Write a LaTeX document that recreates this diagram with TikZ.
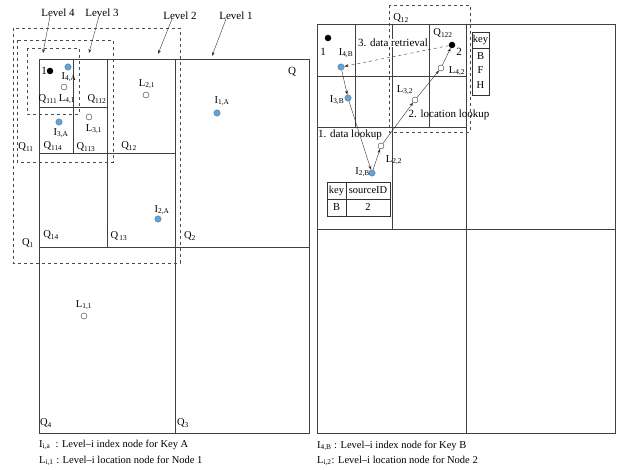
\documentclass[tikz,border=0pt]{standalone}
\usepackage{fontspec}
\setmainfont{Liberation Serif}
\usetikzlibrary{arrows.meta}
\definecolor{idxblue}{RGB}{95,165,220}
\tikzset{
  box/.style={draw=black!75, line width=0.6pt},
  dbox/.style={draw=black!70, dashed, line width=0.6pt},
  lbl/.style={inner sep=0pt, font=\fontsize{11}{12}\selectfont},
  sm/.style={inner sep=0pt, font=\fontsize{10.5}{11}\selectfont},
  leg/.style={inner sep=0pt, font=\fontsize{10.5}{11}\selectfont},
  idx/.style={circle, fill=idxblue, draw=black!60, line width=0.3pt, minimum size=6.5pt, inner sep=0pt},
  loc/.style={circle, fill=white, draw=black!80, line width=0.4pt, minimum size=6pt, inner sep=0pt},
  blk/.style={circle, fill=black, minimum size=6.5pt, inner sep=0pt},
  arr/.style={-{Stealth[length=4pt,width=3pt]}, draw=black!80, line width=0.4pt},
  darr/.style={arr, dashed},
  tbl/.style={draw=black!80, line width=0.5pt}
}
\begin{document}
\begin{tikzpicture}[x=1pt,y=-1pt]
\useasboundingbox (0,0) rectangle (621,470);
% ---------------- left panel ----------------
\draw[box] (39,59) rectangle (309,433);
\draw[box] (175,59) -- (175,433);
\draw[box] (39,247) -- (309,247);
\draw[box] (107,59) -- (107,247);
\draw[box] (39,153) -- (175,153);
\draw[box] (73,59) -- (73,153);
\draw[box] (39,107) -- (107,107);
% dashed level boxes
\draw[dbox] (13,28) rectangle (180,263);
\draw[dbox] (17,40) rectangle (113,162);
\draw[dbox] (27,48) rectangle (79,114);
% level labels and arrows
\node[lbl] (lv4) at (58,13) {Level 4};
\node[lbl] (lv3) at (102,13) {Level 3};
\node[lbl] (lv2) at (180,16) {Level 2};
\node[lbl] (lv1) at (236,16) {Level 1};
\coordinate (lv4t) at (43,53);
\coordinate (lv3t) at (89,53);
\coordinate (lv2t) at (158,54);
\coordinate (lv1t) at (212,56);
\draw[arr] (lv4.south) ++(-8,-1) -- (lv4t);
\draw[arr] (lv3.south) ++(-3,-1) -- (lv3t);
\draw[arr] (lv2.south) ++(-8,-1) -- (lv2t);
\draw[arr] (lv1.south) ++(-10,-1) -- (lv1t);
% nodes
\node[blk] (n1l) at (50,71) {};
\node[lbl] (n1lt) at (44,71) {1};
\node[idx] (i4a) at (68,67) {};
\node[sm] (i4at) at (69,77) {I\textsubscript{4,A}};
\node[loc] (l41) at (64,87) {};
\node[sm] (l41t) at (67,99) {L\textsubscript{4,1}};
\node[sm] (q111) at (48,99) {Q\textsubscript{111}};
\node[sm] (q112) at (97,99) {Q\textsubscript{112}};
\node[sm] (l21t) at (147,84) {L\textsubscript{2,1}};
\node[loc] (l21) at (146,95) {};
\node[idx] (i3a) at (59,122) {};
\node[sm] (i3at) at (61,133) {I\textsubscript{3,A}};
\node[loc] (l31) at (89,117) {};
\node[sm] (l31t) at (94,129) {L\textsubscript{3,1}};
\node[sm] (q11) at (26,147) {Q\textsubscript{11}};
\node[sm] (q114) at (53,146) {Q\textsubscript{114}};
\node[sm] (q113) at (86,147) {Q\textsubscript{113}};
\node[sm] (q12) at (129,146) {Q\textsubscript{12}};
\node[lbl] (qq) at (292,72) {Q};
\node[sm] (i1at) at (222,101) {I\textsubscript{1,A}};
\node[idx] (i1a) at (217,113) {};
\node[sm] (i2at) at (162,210) {I\textsubscript{2,A}};
\node[idx] (i2a) at (158,219) {};
\node[sm] (q14) at (51,235) {Q\textsubscript{14}};
\node[sm] (q13) at (119,236) {Q\textsubscript{\,13}};
\node[sm] (q1) at (28,243) {Q\textsubscript{1}};
\node[sm] (q2) at (190,236) {Q\textsubscript{2}};
\node[sm] (l11t) at (84,305) {L\textsubscript{1,1}};
\node[loc] (l11) at (84,316) {};
\node[sm] (q4) at (46,423) {Q\textsubscript{4}};
\node[sm] (q3) at (183,423) {Q\textsubscript{3}};
\node[leg, anchor=west] (legl1) at (39,445) {I\textsubscript{i,a}\ \ : Level–i index node for Key A};
\node[leg, anchor=west] (legl2) at (39,461) {L\textsubscript{i,1}\ : Level–i location node for Node 1};
% ---------------- right panel ----------------
\draw[box] (317,24) rectangle (615,433);
\draw[box] (466,24) -- (466,433);
\draw[box] (317,229) -- (615,229);
\draw[box] (392,24) -- (392,229);
\draw[box] (317,127) -- (466,127);
\draw[box] (355,24) -- (355,127);
\draw[box] (429,24) -- (429,127);
\draw[box] (317,76) -- (466,76);
\draw[dbox] (389,5) rectangle (470,132);
\node[sm] (rq12) at (401,18) {Q\textsubscript{12}};
\node[sm] (rq122) at (443,33) {Q\textsubscript{122}};
\node[blk] (n1) at (328,38) {};
\node[lbl] (n1t) at (323,52) {1};
\node[blk] (n2) at (452,45) {};
\node[lbl] (n2t) at (459,52) {2};
\node[idx] (i4b) at (341,67) {};
\node[sm] (i4bt) at (346,53) {I\textsubscript{4,B}};
\node[lbl, fill=white, inner sep=0.5pt] (dr) at (393,43) {3. data retrieval};
\node[loc] (l42) at (441,68) {};
\node[sm] (l42t) at (457,71) {L\textsubscript{4,2}};
\node[loc] (l32) at (415,100) {};
\node[sm] (l32t) at (405,90) {L\textsubscript{3,2}};
\node[lbl] (ll) at (449,115) {2. location lookup};
\node[lbl] (dl) at (350,135) {1. data lookup};
\node[idx] (i3b) at (348,98) {};
\node[sm] (i3bt) at (337,100) {I\textsubscript{3,B}};
\node[loc] (l22) at (381,146) {};
\node[sm] (l22t) at (394,160) {L\textsubscript{2,2}};
\node[idx] (i2b) at (372,173) {};
\node[sm, anchor=east] (i2bt) at (370,172) {I\textsubscript{2,B}};
% connectors
\draw[darr] (n2) -- (i4b);
\draw[arr] (i4b) -- (i3b);
\draw[arr] (i3b) -- (i2b);
\draw[arr] (i2b) -- (l22);
\draw[arr] (l22) -- (l32);
\draw[arr] (l32) -- (l42);
\draw[arr] (l42) -- (n2);
% source table
\draw[tbl] (327,182) rectangle (390,216);
\draw[tbl] (327,199) -- (390,199);
\draw[tbl] (346,182) -- (346,216);
\node[sm] (tk) at (336.5,190.5) {key};
\node[sm] (ts) at (368,190.5) {sourceID};
\node[sm] (tb) at (336.5,207.5) {B};
\node[sm] (t2) at (368,207.5) {2};
% key table
\draw[tbl] (472,32) rectangle (489,95);
\draw[tbl] (472,48) -- (489,48);
\node[sm] (kk) at (480.5,40) {key};
\node[sm] (kb) at (480.5,56) {B};
\node[sm] (kf) at (480.5,70) {F};
\node[sm] (kh) at (480.5,85) {H};
\node[leg, anchor=west] (legr1) at (317,446) {I\textsubscript{4,B} : Level–i index node for Key B};
\node[leg, anchor=west] (legr2) at (317,461) {L\textsubscript{i,2}: Level–i location node for Node 2};
\end{tikzpicture}
\end{document}
